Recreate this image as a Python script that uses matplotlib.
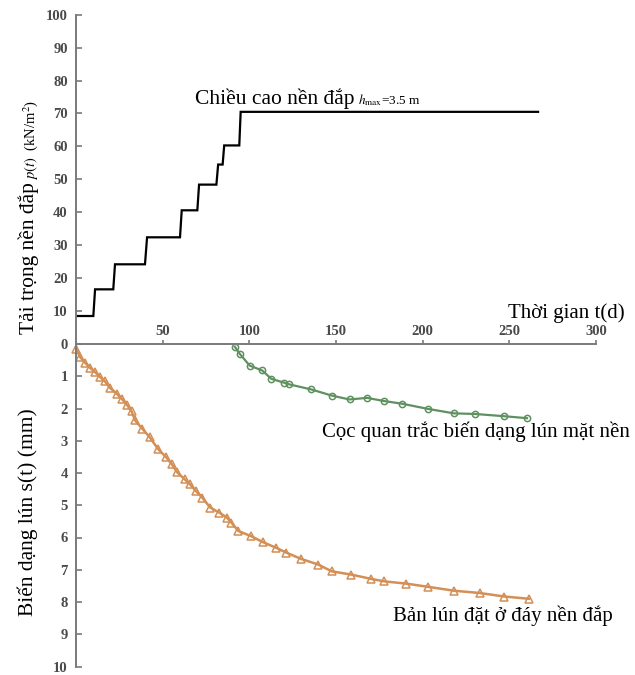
import numpy as np
import matplotlib
matplotlib.use("Agg")
import matplotlib.pyplot as plt

plt.rcParams["font.family"] = ["Liberation Serif", "DejaVu Serif"]
plt.rcParams["mathtext.fontset"] = "stix"

# =========================
# DATA
# =========================
# load stages: level p(t) in kN/m2, start and end of each plateau (days)
stage_start = [0, 11, 22.5, 41, 61, 71, 82, 85.5, 95]
stage_end = [10, 21.5, 39.8, 60, 70, 81, 84.6, 94.2, 266.6]
stage_level = [8.5, 16.6, 24.2, 32.4, 40.6, 48.4, 54.5, 60.3, 70.5]

# surface settlement plate (green circles)
surf_t = [91.7, 94.4, 100.2, 107.4, 112.7, 120.1, 122.9, 135.8, 147.6, 157.8,
          167.9, 177.8, 188.0, 202.8, 218.0, 230.3, 247.2, 260.2]
surf_s = [0.09, 0.30, 0.67, 0.82, 1.08, 1.20, 1.25, 1.41, 1.60, 1.72,
          1.67, 1.77, 1.85, 2.01, 2.15, 2.17, 2.24, 2.30]

# settlement plate at embankment base (orange triangles)
base_t = [0, 2.3, 5.2, 8.1, 11.0, 13.8, 16.7, 19.6, 23.5, 26.4, 29.3, 32.1,
          34.1, 38.3, 42.5, 47.4, 52.0, 55.2, 58.4, 62.6, 65.8, 69.0, 72.8,
          77.4, 82.7, 87.0, 89.7, 93.7, 101.1, 107.7, 115.5, 121.4, 129.7,
          139.8, 147.6, 158.8, 170.0, 177.8, 190.5, 203.2, 218.0, 232.8,
          247.1, 261.3]
base_s = [0.14, 0.40, 0.58, 0.74, 0.87, 1.02, 1.16, 1.36, 1.54, 1.70, 1.88, 2.09,
          2.37, 2.63, 2.89, 3.26, 3.51, 3.72, 3.98, 4.19, 4.35, 4.55, 4.76,
          5.07, 5.23, 5.38, 5.54, 5.80, 5.96, 6.14, 6.32, 6.47, 6.66,
          6.84, 7.05, 7.15, 7.28, 7.36, 7.43, 7.53, 7.65, 7.72,
          7.83, 7.90]

load_ticks = [10, 20, 30, 40, 50, 60, 70, 80, 90, 100]
settle_ticks = list(range(0, 11))
time_ticks = [50, 100, 150, 200, 250, 300]

# =========================
# LAYOUT (pixels)
# =========================
W, H = 635, 675
X0, X1 = 76, 596
Y100, Y0, Y10 = 14.7, 344, 666.5

AXIS_C = "#7a7a7a"
LABEL_C = "#4a4a4a"
GREEN = "#5f9160"
ORANGE = "#d38f55"
TICK_FONT = dict(size=10.5, weight="bold")


def fx(x):
    return x / W


def fy(y):
    return 1 - y / H


fig = plt.figure(figsize=(W / 100, H / 100), dpi=100)
ax_top = fig.add_axes([fx(X0), fy(Y0), (X1 - X0) / W, (Y0 - Y100) / H])
ax_bot = fig.add_axes([fx(X0), fy(Y10), (X1 - X0) / W, (Y10 - Y0) / H])

# --- load curve ---
px, py = [], []
for a, b, lv in zip(stage_start, stage_end, stage_level):
    px += [a, b]
    py += [lv, lv]
ax_top.plot(px, py, color="black", lw=1.6, solid_joinstyle="miter")
ax_top.set_xlim(0, 300)
ax_top.set_ylim(0, 100)
ax_top.set_yticks(load_ticks)
ax_top.set_yticklabels([str(v) for v in load_ticks], fontdict=TICK_FONT)
ax_top.set_xticks([])
for sp in ["top", "right", "bottom"]:
    ax_top.spines[sp].set_visible(False)
ax_top.spines["left"].set_color(AXIS_C)
ax_top.spines["left"].set_linewidth(1.4)
ax_top.tick_params(axis="y", direction="in", length=4, width=1.2, color=AXIS_C,
                   labelcolor=LABEL_C, pad=6)

# --- settlement curves ---
ax_bot.plot(surf_t, surf_s, color=GREEN, lw=1.6, marker="o", ms=4.5,
            mfc="none", mec=GREEN, mew=1.1, clip_on=False)
ax_bot.plot(base_t, base_s, color=ORANGE, lw=1.8, marker="^", ms=5.2,
            mfc="none", mec=ORANGE, mew=1.1, clip_on=False)
ax_bot.set_xlim(0, 300)
ax_bot.set_ylim(10, 0)
ax_bot.set_yticks(settle_ticks)
ax_bot.set_yticklabels([str(v) for v in settle_ticks], fontdict=TICK_FONT)
ax_bot.set_xticks(time_ticks)
ax_bot.set_xticklabels([str(v) for v in time_ticks], fontdict=TICK_FONT)
ax_bot.xaxis.tick_top()
for sp in ["right", "bottom"]:
    ax_bot.spines[sp].set_visible(False)
for sp in ["top", "left"]:
    ax_bot.spines[sp].set_color(AXIS_C)
    ax_bot.spines[sp].set_linewidth(1.4)
ax_bot.tick_params(axis="y", direction="in", length=4, width=1.2, color=AXIS_C,
                   labelcolor=LABEL_C, pad=6)
ax_bot.tick_params(axis="x", direction="out", length=3, width=1.2, color=AXIS_C,
                   labelcolor=LABEL_C, pad=1)

# --- texts ---
fig.text(fx(195), fy(104), "Chiều cao nền đắp", fontsize=15.5, va="baseline")
fig.text(fx(358), fy(104), r"$h_{\rm max}$=3.5 m", fontsize=9.5, va="baseline")
fig.text(fx(625), fy(318), "Thời gian t(d)", fontsize=15, ha="right", va="baseline")
fig.text(fx(630), fy(437), "Cọc quan trắc biến dạng lún mặt nền", fontsize=15,
         ha="right", va="baseline")
fig.text(fx(613), fy(621), "Bản lún đặt ở đáy nền đắp", fontsize=15,
         ha="right", va="baseline")

fig.text(fx(29), fy(334), "Tải trọng nền đắp", fontsize=15.5, rotation=90,
         ha="center", va="bottom")
fig.text(fx(31), fy(180), r"$p(t)$  (kN/m$^2$)", fontsize=10.5, rotation=90,
         ha="center", va="bottom")
fig.text(fx(28), fy(512), "Biến dạng lún s(t) (mm)", fontsize=15.5, rotation=90,
         ha="center", va="center")

fig.savefig("out.png", dpi=100)
